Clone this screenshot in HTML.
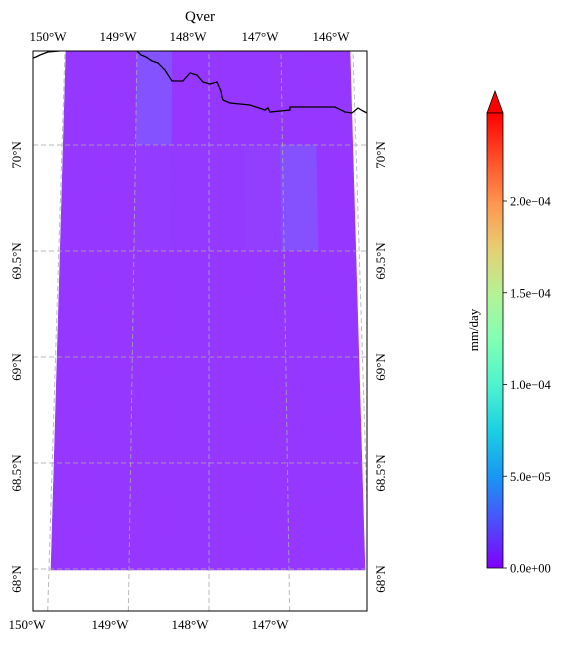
<!DOCTYPE html>
<html><head><meta charset="utf-8"><style>
body{margin:0;background:#fff}
svg text{font-family:"Liberation Serif",serif;fill:#000}
</style></head><body>
<svg id="chart" width="574" height="642" viewBox="0 0 574 642" xmlns="http://www.w3.org/2000/svg">
<defs>
<clipPath id="axclip"><rect x="33" y="51" width="334" height="560"/></clipPath>
<linearGradient id="rainbow" x1="0" y1="1" x2="0" y2="0">
<stop offset="0" stop-color="#8000ff"/><stop offset="0.1" stop-color="#4d4dfc"/><stop offset="0.2" stop-color="#1996f3"/>
<stop offset="0.3" stop-color="#1acfe3"/><stop offset="0.4" stop-color="#4df3ce"/><stop offset="0.5" stop-color="#80ffb4"/>
<stop offset="0.6" stop-color="#b3f396"/><stop offset="0.7" stop-color="#e6cf73"/><stop offset="0.8" stop-color="#ff964f"/>
<stop offset="0.9" stop-color="#ff4d27"/><stop offset="1" stop-color="#ff0000"/>
</linearGradient>
</defs>
<text x="200" y="21" font-size="15" text-anchor="middle">Qver</text>
<g id="cells" clip-path="url(#axclip)"></g>
<g id="grid" clip-path="url(#axclip)"></g>
<path clip-path="url(#axclip)" fill="none" stroke="#000" stroke-width="1.3" d="M33,58 L36,57 L40,55 L48,52 L60,51 M137,51 L141,55 L146,57 L152,61 L158,63 L165,70 L172,81 L183,81 L190,73 L197,75 L203,82 L210,84 L217,82 L221,91 L222,97 L223,100 L230,103 L250,105 L265,110 L268,108 L270,112 L290,110 L290,107 L335,107 L345,112 L352,113 L358,108 L363,111 L367,113"/>
<rect x="33" y="51" width="334" height="560" fill="none" stroke="#000" stroke-width="1"/>
<g id="labels"></g>
<g>
<path d="M487,113 L495,91 L503,113 Z" fill="#ff0000" stroke="#000" stroke-width="0.8"/>
<rect x="487" y="113" width="16" height="455" fill="url(#rainbow)" stroke="#000" stroke-width="0.8"/>
<g id="cbticks"></g>
<text transform="translate(478,330) rotate(-90)" font-size="13" text-anchor="middle">mm/day</text>
</g>
</svg>
<script>
// data
const lonTicks = [-150,-149,-148,-147,-146];
const latTicks = [70,69.5,69,68.5,68];
const cbTickVals = [0,5e-5,1e-4,1.5e-4,2e-4];
const cbTickLabels = ["0.0e+00","5.0e\u221205","1.0e\u221204","1.5e\u221204","2.0e\u221204"];
const rowLats = [70.45,70,69.5,69,68.5,68];  // row boundaries (N)
const cellValues = [
 [3e-6,3e-6,1.6e-5,3e-6,3e-6,3e-6,3e-6,3e-6],
 [3e-6,3e-6,5e-6,4e-6,4e-6,6e-6,1.5e-5,3e-6],
 [3e-6,3e-6,3e-6,3e-6,3e-6,3e-6,3e-6,3e-6],
 [3e-6,3e-6,3e-6,3e-6,3e-6,3e-6,3e-6,3e-6],
 [3e-6,3e-6,3e-6,3e-6,3e-6,3e-6,3e-6,3e-6]
];
const NS='http://www.w3.org/2000/svg';
function latY(lat){return 569-(lat-68)*212;}
function lonX(lon,y){
  const t=(569-y)/518; const bottom=209+(lon+148)*80; const top=209+(lon+148)*72;
  return bottom+(top-bottom)*t;}
function edgeX(frac,y){const t=(570-y)/519;const l=51+(66-51)*t, r=365+(350-365)*t;return l+(r-l)*frac;}
function mapColor(v){const a=Math.min(v/2e-5,1);
  const c0=[154,48,255],c1=[126,92,255];
  return 'rgb('+c0.map((c,i)=>Math.round(c+(c1[i]-c)*a)).join(',')+')';}
function cbY(v){return 568-v/5e-5*91.75;}
function el(tag,attrs,parent){const e=document.createElementNS(NS,tag);for(const k in attrs)e.setAttribute(k,attrs[k]);parent.appendChild(e);return e;}
const cells=document.getElementById('cells');
cellValues.forEach((row,r)=>{row.forEach((v,c)=>{
  const y0=latY(rowLats[r]), y1=latY(rowLats[r+1])+(r===4?1:0);
  const f0=c/8,f1=(c+1)/8;
  const p=el('polygon',{points:[edgeX(f0,y0),y0,edgeX(f1,y0),y0,edgeX(f1,y1),y1,edgeX(f0,y1),y1].join(' '),fill:mapColor(v),stroke:mapColor(v),'stroke-width':0.6},cells);
  
  
});});
const grid=document.getElementById('grid');
lonTicks.forEach(lon=>{const l=el('line',{x1:lonX(lon,611),y1:611,x2:lonX(lon,51),y2:51,stroke:'#aaa','stroke-width':1,'stroke-dasharray':'5,3',opacity:0.8},grid);
  
  });
latTicks.forEach(lat=>{const y=latY(lat);const l=el('line',{x1:33,y1:y,x2:367,y2:y,stroke:'#aaa','stroke-width':1,'stroke-dasharray':'5,3',opacity:0.8},grid);
  
  });
const labels=document.getElementById('labels');
const topX=[48,118,188,260,331], botX=[27,110,190,270];
lonTicks.forEach((lon,i)=>{const t=el('text',{x:topX[i],y:41,'font-size':13,'text-anchor':'middle'},labels);t.textContent=(-lon)+'\u00b0W';
  
  
  if(i<4){const b=el('text',{x:botX[i],y:629,'font-size':13,'text-anchor':'middle'},labels);b.textContent=(-lon)+'\u00b0W';
  
  }});
latTicks.forEach(lat=>{const y=latY(lat)+10;const s=lat+'\u00b0N';
  const a=el('text',{transform:'translate(21,'+y+') rotate(-90)','font-size':13,'text-anchor':'middle'},labels);a.textContent=s;
  
  
  const b=el('text',{transform:'translate(385,'+y+') rotate(-90)','font-size':13,'text-anchor':'middle'},labels);b.textContent=s;
  
  });
const cbt=document.getElementById('cbticks');
cbTickVals.forEach((v,i)=>{const y=cbY(v);
  const l=el('line',{x1:503,y1:y,x2:507,y2:y,stroke:'#000','stroke-width':0.8},cbt);
  
  
  const t=el('text',{x:510,y:y+4.5,'font-size':12.5},cbt);t.textContent=cbTickLabels[i];
  
  });
</script>
</body></html>
